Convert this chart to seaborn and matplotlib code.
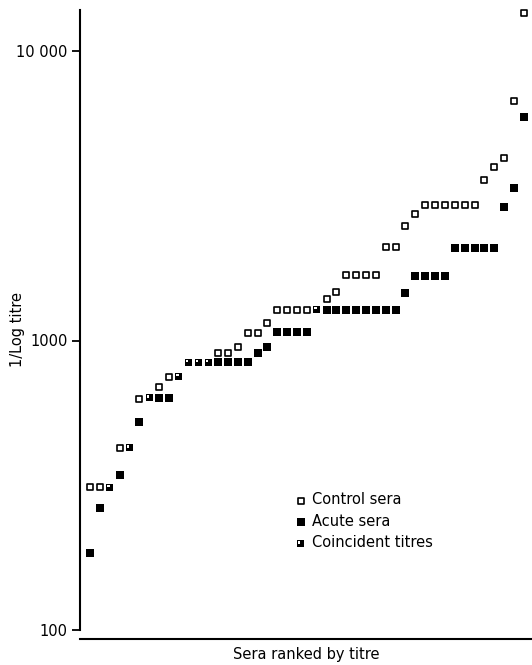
import matplotlib
matplotlib.use("Agg")
import matplotlib.pyplot as plt
import seaborn as sns
import pandas as pd
from matplotlib.path import Path
from matplotlib.ticker import FixedLocator, FixedFormatter, NullLocator

# ---- data ----
rank = list(range(1, 46))
control = [311, 311, 311, 426, 426, 628, 634, 692, 746, 753,
           841, 841, 841, 903, 907, 952, 1059, 1059, 1152, 1274,
           1274, 1274, 1274, 1280, 1388, 1471, 1690, 1690, 1690, 1690,
           2109, 2109, 2487, 2735, 2938, 2938, 2938, 2938, 2938, 2938,
           3585, 3983, 4258, 6735, 13560]
acute = [185, 264, 311, 343, 426, 524, 634, 634, 634, 753,
         841, 841, 841, 841, 841, 841, 841, 907, 947, 1067,
         1067, 1067, 1067, 1280, 1274, 1274, 1274, 1274, 1274, 1274,
         1274, 1274, 1462, 1670, 1670, 1670, 1670, 2081, 2081, 2081,
         2081, 2081, 2898, 3355, 5902]
series_labels = ["Control sera", "Acute sera", "Coincident titres"]
ytick_values = [100, 1000, 10000]
ytick_labels = ["100", "1000", "10 000"]
xlabel = "Sera ranked by titre"
ylabel = "1/Log titre"

rows = []
for r, c, a in zip(rank, control, acute):
    if c == a:
        rows.append((r, c, series_labels[2]))
    else:
        rows.append((r, c, series_labels[0]))
        rows.append((r, a, series_labels[1]))
df = pd.DataFrame(rows, columns=["rank", "titre", "type"])

sns.set_theme(style="white")
plt.rcParams['font.family'] = ['DejaVu Sans']
plt.rcParams['text.color'] = 'black'
plt.rcParams['axes.labelcolor'] = 'black'
plt.rcParams['ytick.labelcolor'] = 'black'

fig = plt.figure(figsize=(5.32, 6.65), dpi=100)
ax = fig.add_axes([80 / 532, 35 / 665, 452 / 532, 620 / 665])

# custom marker: black square with a small white notch top-left
verts = [(-0.5, -0.5), (0.5, -0.5), (0.5, 0.5), (-0.5, 0.5), (-0.5, -0.5),
         (-0.33, 0.02), (-0.33, 0.33), (-0.02, 0.33), (-0.02, 0.02), (-0.33, 0.02)]
codes = [Path.MOVETO, Path.LINETO, Path.LINETO, Path.LINETO, Path.CLOSEPOLY,
         Path.MOVETO, Path.LINETO, Path.LINETO, Path.LINETO, Path.CLOSEPOLY]
coinc_marker = Path(verts, codes)

sns.scatterplot(data=df[df["type"] == series_labels[0]], x="rank", y="titre",
                marker="s", s=17, facecolor="white", edgecolor="black",
                linewidth=1.2, ax=ax, label=series_labels[0], clip_on=False, zorder=3)
sns.scatterplot(data=df[df["type"] == series_labels[1]], x="rank", y="titre",
                marker="s", s=27, color="black", edgecolor="black",
                linewidth=0, ax=ax, label=series_labels[1], clip_on=False, zorder=3)
sns.scatterplot(data=df[df["type"] == series_labels[2]], x="rank", y="titre",
                marker=coinc_marker, s=27, color="black", edgecolor="none",
                linewidth=0, ax=ax, label=series_labels[2], clip_on=False, zorder=3)

ax.set_yscale("log")
ax.set_ylim(100, 10 ** (2 + 620 / 289.5))
ax.set_xlim(-0.01, 45.83)
ax.yaxis.set_major_locator(FixedLocator(ytick_values))
ax.yaxis.set_major_formatter(FixedFormatter(ytick_labels))
ax.yaxis.set_minor_locator(NullLocator())
ax.set_xticks([])
ax.tick_params(axis="y", direction="out", length=6, width=1.3, color="black",
               labelcolor="black", labelsize=10.5, pad=3, left=True)

for side in ["top", "right"]:
    ax.spines[side].set_visible(False)
for side in ["left", "bottom"]:
    ax.spines[side].set_color("black")
    ax.spines[side].set_linewidth(1.5)
ax.spines["bottom"].set_position(("outward", 6.5))

ax.set_xlabel(xlabel, fontsize=10.5, labelpad=6, color="black")
ax.set_ylabel(ylabel, fontsize=10.5, color="black")
ax.yaxis.set_label_coords(-0.122, 0.485)

leg = ax.legend(loc="upper left", bbox_to_anchor=(0.475, 0.222), frameon=False,
                fontsize=10.5, handlelength=0.8, handletextpad=0.4,
                labelspacing=0.45, borderpad=0, borderaxespad=0, markerscale=1.0,
                labelcolor="black")

fig.savefig("out.png", dpi=100)
